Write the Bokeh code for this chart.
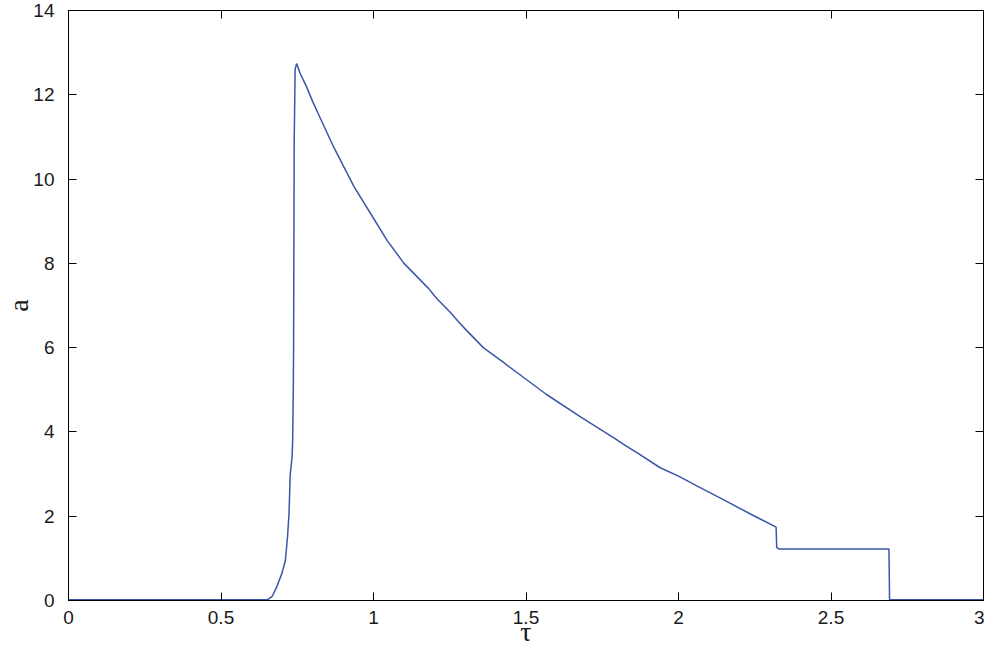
from bokeh.plotting import figure
from bokeh.models import Range1d, LinearAxis, FixedTicker
from bokeh.embed import file_html
from bokeh.resources import INLINE

# data
tau = [0.0, 0.597, 0.653, 0.668, 0.682, 0.700, 0.711, 0.718, 0.723, 0.727,
       0.733, 0.735, 0.737, 0.738, 0.740, 0.742, 0.743, 0.748,
       0.760, 0.780, 0.800, 0.829, 0.870, 0.937, 1.000, 1.045, 1.100,
       1.181, 1.208, 1.250, 1.280, 1.305, 1.360, 1.424, 1.500, 1.565,
       1.680, 1.792, 1.825, 1.870, 1.940, 2.000, 2.057, 2.150, 2.250,
       2.320, 2.322, 2.330, 2.690, 2.692, 3.000]
a_vals = [0.02, 0.02, 0.02, 0.10, 0.31, 0.65, 0.95, 1.50, 2.06, 3.00,
          3.40, 3.80, 5.00, 6.00, 10.90, 12.00, 12.60, 12.74,
          12.50, 12.20, 11.85, 11.39, 10.75, 9.81, 9.07, 8.54, 8.00,
          7.40, 7.16, 6.85, 6.60, 6.41, 6.00, 5.66, 5.25, 4.90,
          4.35, 3.84, 3.68, 3.48, 3.15, 2.95, 2.73, 2.38, 2.00,
          1.74, 1.26, 1.22, 1.22, 0.02, 0.02]
x_ticks = [0, 0.5, 1, 1.5, 2, 2.5, 3]
x_tick_labels = ["0", "0.5", "1", "1.5", "2", "2.5", "3"]
y_ticks = [0, 2, 4, 6, 8, 10, 12, 14]
x_label = "τ"
y_label = "a"

p = figure(width=984, height=649,
           min_border_left=5, min_border_right=1, min_border_top=10, min_border_bottom=5,
           x_range=Range1d(0, 3), y_range=Range1d(0, 14),
           output_backend="svg", toolbar_location=None,
           x_axis_type=None, y_axis_type=None)
p.xgrid.visible = False
p.ygrid.visible = False
p.outline_line_color = "black"
p.outline_line_width = 1
p.background_fill_color = "white"
p.border_fill_color = "white"

def style(ax):
    ax.major_tick_in = 8
    ax.major_tick_out = 0
    ax.minor_tick_line_color = None
    ax.axis_line_color = "black"
    ax.major_tick_line_color = "black"
    ax.major_label_text_font = "Liberation Sans"
    ax.major_label_text_color = "#1a1a1a"
    ax.major_label_text_font_size = "19px"
    ax.axis_label_text_font = "Liberation Serif"
    ax.axis_label_text_font_style = "normal"
    ax.axis_label_text_color = "#1a1a1a"

def hide_labels(ax, ticks):
    ax.major_label_overrides = {t: "" for t in ticks}
    ax.major_label_text_font_size = "1px"
    ax.major_label_standoff = 0

xb = LinearAxis(ticker=FixedTicker(ticks=x_ticks))
style(xb)
xb.major_label_overrides = dict(zip(x_ticks, x_tick_labels))
xb.major_label_standoff = 10
xb.axis_label = x_label
xb.axis_label_text_font_size = "28px"
xb.axis_label_standoff = -11
p.add_layout(xb, "below")

xt = LinearAxis(ticker=FixedTicker(ticks=x_ticks))
style(xt)
hide_labels(xt, x_ticks)
p.add_layout(xt, "above")

yl = LinearAxis(ticker=FixedTicker(ticks=y_ticks))
style(yl)
yl.major_label_standoff = 14
yl.axis_label = y_label
yl.axis_label_text_font_size = "28px"
yl.axis_label_standoff = -4
p.add_layout(yl, "left")

yr = LinearAxis(ticker=FixedTicker(ticks=y_ticks))
style(yr)
hide_labels(yr, y_ticks)
p.add_layout(yr, "right")

p.line(tau, a_vals, line_color="#3b55a8", line_width=1.5)

open("out.html", "w").write(file_html(p, INLINE))
